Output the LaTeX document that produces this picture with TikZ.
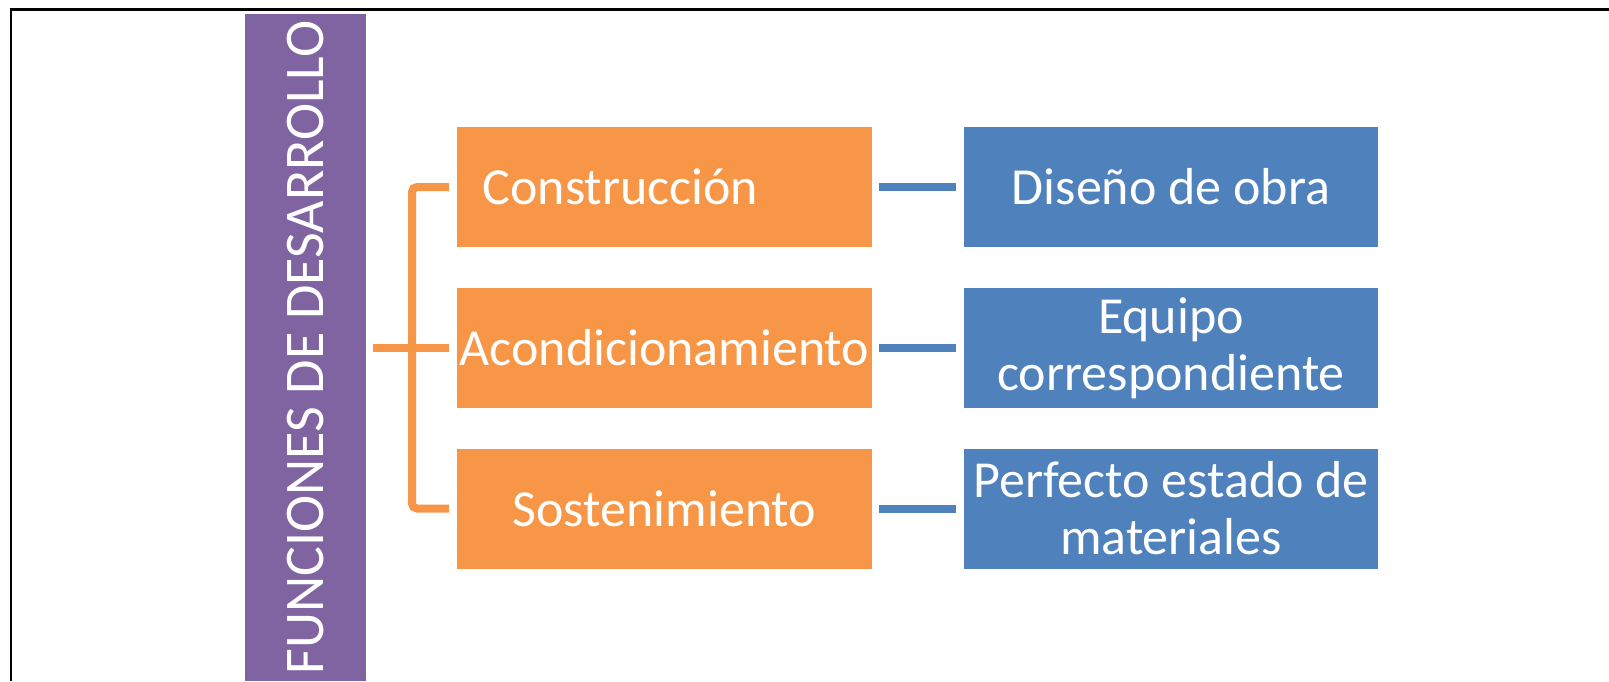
\documentclass[tikz,border=0pt]{standalone}
\usepackage{fontspec}
\setmainfont{Carlito}
\definecolor{orng}{HTML}{F79646}
\definecolor{blu}{HTML}{4F81BD}
\definecolor{purp}{HTML}{8064A2}
\begin{document}
\begin{tikzpicture}[x=1pt,y=-1pt,
  obox/.style={fill=orng,draw=none,minimum width=415pt,minimum height=120pt,inner sep=0pt,text=white,font=\fontsize{52pt}{57pt}\selectfont,align=center},
  bbox/.style={fill=blu,draw=none,minimum width=414pt,minimum height=120pt,inner sep=0pt,text=white,font=\fontsize{52pt}{57pt}\selectfont,align=center},
  bline/.style={draw=blu,line width=8pt,shorten <=7pt,shorten >=8pt},
  oline/.style={draw=orng,line width=8pt}]
\useasboundingbox (0,0) rectangle (1609,681);
\fill[white] (0,0) rectangle (1609,681);
% frame
\draw[line width=2.5pt] (11,681) -- (11,9.5) -- (1609,9.5);
% purple
\node[fill=purp,draw=none,rotate=90,minimum width=667pt,minimum height=121pt,inner sep=0pt,text=white,font=\fontsize{56pt}{60pt}\selectfont] (p) at (305.5,347.5) {FUNCIONES DE DESARROLLO};
% orange
\node[obox] (o1) at (664.5,187) {Construcción\hspace*{88pt}};
\node[obox] (o2) at (664.5,348) {Acondicionamiento};
\node[obox] (o3) at (664.5,508.5) {Sostenimiento};
% blue
\node[bbox] (b1) at (1171,187) {Diseño de obra};
\node[bbox] (b2) at (1171,348) {Equipo\\correspondiente};
\node[bbox] (b3) at (1171,508.5) {Perfecto estado de\\materiales};
% blue connectors
\draw[bline] (o1.east) -- (b1.west);
\draw[bline] (o2.east) -- (b2.west);
\draw[bline] (o3.east) -- (b3.west);
% bracket
\coordinate (spine) at (412,348);
\draw[oline,rounded corners=5pt] ([xshift=-8pt]o1.west) -| (spine) |- ([xshift=-8pt]o3.west);
\draw[oline,shorten <=7pt,shorten >=8pt] (p.south |- o2.west) -- (o2.west);
\end{tikzpicture}
\end{document}
